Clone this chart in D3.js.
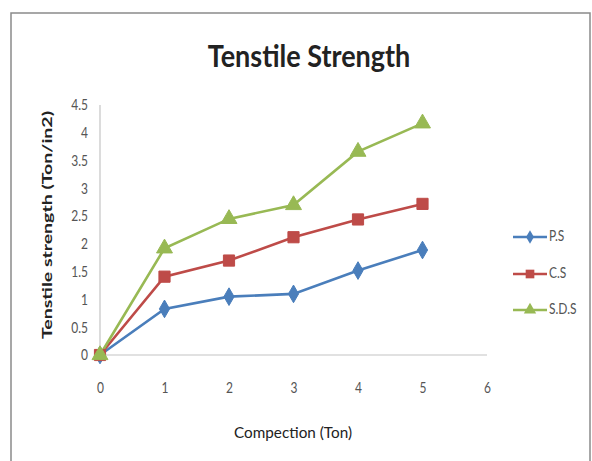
<!DOCTYPE html>
<html><head><meta charset="utf-8">
<script src="https://cdn.jsdelivr.net/npm/d3@7"></script>
<style>body{margin:0;background:#fff}svg{display:block;font-family:Lato,"Open Sans",sans-serif}</style>
</head><body><svg id="c" width="592" height="461"></svg>
<script>
const xValues = [0, 1, 2, 3, 4, 5];
const seriesNames = ["P.S", "C.S", "S.D.S"];
const psValues = [0, 0.83, 1.05, 1.10, 1.52, 1.89];
const csValues = [0, 1.41, 1.70, 2.12, 2.44, 2.72];
const sdsValues = [0, 1.92, 2.45, 2.70, 3.66, 4.17];
const yTicks = [0, 0.5, 1, 1.5, 2, 2.5, 3, 3.5, 4, 4.5];
const xTicks = [0, 1, 2, 3, 4, 5, 6];
const colors = ["#4a7ebb", "#be4b48", "#98b954"];
const symbols = [d3.symbolDiamond, d3.symbolSquare, d3.symbolTriangle];
const symSizes = [90, 125, 110];
const vs = 1.25; // vertical stretch of the reference's text

const svg = d3.select("#c");
svg.append("rect").attr("x", 11).attr("y", 13).attr("width", 579).attr("height", 460)
  .attr("fill", "#fff").attr("stroke", "#8a8a8a").attr("stroke-width", 1.5);

const x = d3.scaleLinear().domain([0, 6]).range([100, 487]);
const y = d3.scaleLinear().domain([0, 4.5]).range([355, 105]);

svg.append("line").attr("x1", x(0)).attr("x2", x(6)).attr("y1", y(0)).attr("y2", y(0)).attr("stroke", "#c4c4c4").attr("stroke-width", 1.2);
svg.append("line").attr("x1", x(0)).attr("x2", x(0)).attr("y1", y(0)).attr("y2", y(4.5)).attr("stroke", "#c4c4c4").attr("stroke-width", 1.2);

const yAxis = svg.append("g").attr("transform", `translate(${x(0)},0)`)
  .call(d3.axisLeft(y).tickValues(yTicks).tickSize(0).tickPadding(12).tickFormat(d3.format("~g")));
yAxis.select(".domain").remove();
yAxis.selectAll("text").attr("font-size", 12).attr("fill", "#555").attr("font-family", "Lato,sans-serif")
  .attr("transform", `scale(1,${vs})`);

const xAxis = svg.append("g").attr("transform", `translate(0,${y(0)})`)
  .call(d3.axisBottom(x).tickValues(xTicks).tickSize(0).tickPadding(22).tickFormat(d3.format("d")));
xAxis.select(".domain").remove();
xAxis.selectAll("text").attr("font-size", 12).attr("fill", "#555").attr("font-family", "Lato,sans-serif")
  .attr("transform", `scale(1,${vs})`);

svg.append("text").attr("transform", `translate(309,67) scale(1,1.15)`).attr("text-anchor", "middle")
  .attr("font-size", 27).attr("font-weight", "bold").attr("fill", "#222").text("Tenstile Strength");
svg.append("text").attr("transform", "translate(52,225) rotate(-90)").attr("text-anchor", "middle")
  .attr("font-size", 13).attr("font-weight", "bold").attr("fill", "#222")
  .attr("textLength", 228).attr("lengthAdjust", "spacingAndGlyphs").text("Tenstile strength (Ton/in2)");
svg.append("text").attr("transform", `translate(293,438) scale(1,${vs})`).attr("text-anchor", "middle")
  .attr("font-size", 13).attr("fill", "#222")
  .attr("textLength", 118).attr("lengthAdjust", "spacingAndGlyphs").text("Compection (Ton)");

const data = [psValues, csValues, sdsValues];
const line = d3.line().x((d, i) => x(xValues[i])).y(d => y(d));
data.forEach((vals, s) => {
  svg.append("path").datum(vals).attr("d", line).attr("fill", "none")
    .attr("stroke", colors[s]).attr("stroke-width", 2.6);
});
data.forEach((vals, s) => {
  svg.selectAll(null).data(vals).enter().append("path")
    .attr("d", d3.symbol().type(symbols[s]).size(symSizes[s]))
    .attr("transform", (d, i) => `translate(${x(xValues[i])},${y(d)})`)
    .attr("fill", colors[s]).attr("stroke", colors[s]).attr("stroke-width", 1);
});

const legendY = [237, 274, 310];
seriesNames.forEach((n, s) => {
  const g = svg.append("g").attr("transform", `translate(0,${legendY[s]})`);
  g.append("line").attr("x1", 513).attr("x2", 547).attr("stroke", colors[s]).attr("stroke-width", 2.6);
  g.append("path").attr("d", d3.symbol().type(symbols[s]).size(symSizes[s] * 0.6))
    .attr("transform", "translate(530,0)").attr("fill", colors[s]);
  g.append("text").attr("transform", `translate(549,4) scale(1,${vs})`).attr("font-size", 12)
    .attr("fill", "#555").text(n);
});
</script></body></html>
